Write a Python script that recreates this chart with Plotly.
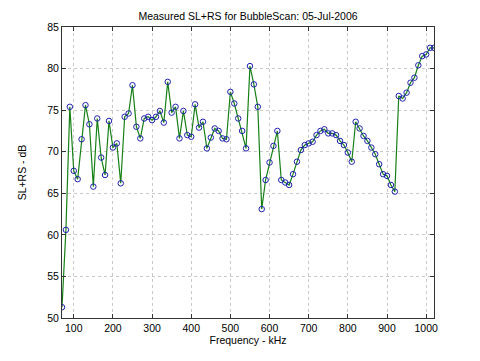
import plotly.graph_objects as go

freq_khz = list(range(70, 1021, 10))
sl_rs_db = [
    51.3, 60.6, 75.4, 67.7, 66.7, 71.5, 75.6, 73.3, 65.8, 74.0,
    69.3, 67.2, 73.7, 70.5, 71.0, 66.2, 74.2, 74.6, 78.0, 73.0,
    71.6, 74.0, 74.2, 73.8, 74.2, 74.9, 73.5, 78.4, 74.7, 75.4,
    71.6, 74.9, 72.0, 71.8, 75.7, 72.9, 73.6, 70.4, 71.7, 72.8,
    72.5, 71.6, 71.5, 77.2, 75.8, 74.0, 72.5, 70.4, 80.3, 78.1,
    75.4, 63.1, 66.6, 68.7, 70.7, 72.5, 66.6, 66.3, 66.0, 67.3,
    68.8, 70.2, 70.8, 71.0, 71.2, 72.0, 72.5, 72.7, 72.2, 72.2,
    72.0, 71.3, 70.8, 69.9, 68.8, 73.6, 72.8, 71.9, 71.3, 70.5,
    69.7, 68.5, 67.3, 67.1, 66.0, 65.2, 76.7, 76.4, 77.1, 78.3,
    78.9, 80.4, 81.5, 81.7, 82.5, 82.5,
]
x_ticks = [100, 200, 300, 400, 500, 600, 700, 800, 900, 1000]
y_ticks = [50, 55, 60, 65, 70, 75, 80, 85]

title_text = "Measured SL+RS for BubbleScan: 05-Jul-2006"
x_label = "Frequency - kHz"
y_label = "SL+RS - dB"

font_family = "Liberation Sans, Arial, Helvetica, sans-serif"

fig = go.Figure()
fig.add_trace(go.Scatter(
    x=freq_khz, y=sl_rs_db, mode="lines+markers",
    line=dict(color="#168016", width=1.2),
    marker=dict(symbol="circle-open", size=5.5, color="#2020b0", line=dict(width=1)),
    showlegend=False,
))

axis_common = dict(
    showline=True, linecolor="#333333", linewidth=1, mirror="ticks",
    ticks="inside", ticklen=4, tickcolor="#333333",
    showgrid=True, gridcolor="#c8c8c8", griddash="dot", gridwidth=1,
    zeroline=False, tickfont=dict(size=10.5, color="black", family=font_family),
)

# page body has an 8px margin; size/margins compensate so the plot area
# lands where the reference's does
fig.update_layout(
    width=472, height=353,
    paper_bgcolor="white", plot_bgcolor="white",
    margin=dict(l=54, r=46, t=19, b=43),
    title=dict(text=title_text, x=0.5, xref="paper", y=0.977, yanchor="middle",
               font=dict(size=10.5, color="black", family=font_family)),
    xaxis=dict(range=[70, 1020], tickvals=x_ticks,
               title=dict(text=x_label, standoff=0,
                          font=dict(size=10.5, color="black", family=font_family)),
               **axis_common),
    yaxis=dict(range=[50, 85], tickvals=y_ticks,
               title=dict(text=y_label, standoff=18,
                          font=dict(size=10.5, color="black", family=font_family)),
               **axis_common),
)

fig.write_html("out.html")
